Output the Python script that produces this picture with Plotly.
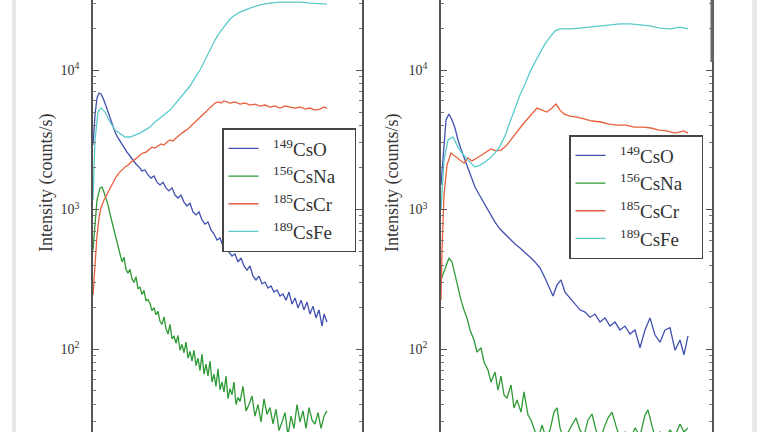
import plotly.graph_objects as go

# ---------------- data (x: sputter time, arbitrary units; y: counts/s) ----------------
# Left panel
L_cso_t = [0,2,4,6,8,10,13,16,19,22,25,28,31,34,37,40,43,46,49,52,55,58,61,64,67,70,73,76,79,82,85,88,91,94,97,100,103,106,109,112,115,118,121,124,127,130,133,136,139,142,145,148,151,154,157,160,163,166,169,172,175,178,181,184,187,190,193,196,199,202,205,208,211,214,217,220,223,226,229,231,234]
L_cso = [2900,4760,6300,6840,6730,6300,5520,4760,4100,3590,3260,3000,2760,2580,2420,2260,2120,2020,1890,1920,1770,1680,1740,1570,1500,1570,1430,1360,1430,1270,1210,1270,1130,1060,1110,960,915,960,841,787,813,713,667,604,625,547,566,496,464,480,421,449,394,368,394,333,313,333,293,302,274,283,256,265,240,248,224,256,210,232,197,224,191,217,178,203,167,191,146,178,156]

L_csna_t = [0,2,4,7,9,11,13,15,17,19,21,23,25,27,29,31,33,35,37,39,41,43,45,47,49,51,53,55,57,59,61,63,65,67,69,71,73,75,77,79,81,83,85,87,89,91,93,95,97,99,101,103,105,107,109,111,113,115,117,119,121,123,125,127,129,131,133,135,137,139,141,143,145,147,150,153,156,159,162,165,168,171,174,177,180,183,186,189,192,195,198,201,204,207,210,213,216,219,222,225,228,231,234]
L_csna = [513,774,1170,1430,1450,1330,1210,1080,929,813,713,625,547,480,421,
          455,372,350,372,318,300,330,270,278,246,
          262,222,226,212,188,198,176,186,158,150,
          170,140,128,150,118,124,110,125,98,108,
          94,112,86,96,82,98,76,86,70,92,
          66,78,64,82,58,66,54,72,51,58,
          49,64,44,52,47,58,40,45,42,54,
          36,40,46,33,40,30,44,34,38,29,
          37,26,30,35,24,33,27,40,30,36,
          27,38,31,29,35,27,33,36]

L_cscr_t = [0,1,2,4,6,8,11,14,17,20,23,26,29,32,35,38,41,44,47,50,53,56,59,62,65,68,71,74,77,80,83,86,89,92,95,98,101,104,107,110,113,116,119,122,125,128,131,134,137,142,147,152,157,162,167,172,177,182,187,192,197,202,207,212,217,222,227,231,234]
L_cscr = [244,313,434,646,869,1030,1170,1290,1430,1570,1710,1830,1920,2020,2080,2190,2260,2340,2460,2540,2580,2670,2800,2760,2850,2950,2900,3050,3150,3100,3260,3370,3530,3660,3780,3970,4170,4380,4600,4840,5080,5340,5520,5800,5900,5800,6000,5900,5800,5900,5700,5800,5610,5700,5520,5610,5430,5520,5340,5520,5430,5340,5430,5250,5340,5160,5250,5430,5340]

L_csfe_t = [0,2,5,8,12,17,22,27,32,37,42,47,52,57,62,67,72,77,82,87,92,97,102,107,112,117,122,127,132,137,142,147,157,167,177,187,197,207,217,227,234]
L_csfe = [1170,3150,5000,5350,5000,4240,3710,3480,3310,3310,3420,3530,3710,3900,4240,4530,4840,5160,5700,6300,6950,7680,8780,10000,11800,13900,16400,18700,21000,23200,24800,26000,27800,29300,30200,30700,30700,30700,30200,29700,29700]

# Right panel
R_cso_t = [0,3,5,8,11,14,17,21,25,29,34,39,44,49,54,59,64,69,74,79,84,89,94,99,104,108,112,116,120,124,129,134,139,144,149,154,159,164,169,174,179,184,189,194,199,204,209,214,219,224,229,234,239,243,247]
R_cso = [1500,3150,4380,4840,4380,3840,3150,2580,2150,1770,1450,1250,1080,929,813,724,667,604,566,530,488,456,421,381,323,274,240,288,313,256,232,214,191,184,169,178,156,167,146,156,137,146,128,137,102,137,167,126,112,137,142,98,116,91,124]

R_csna_t = [0,4,8,11,14,17,20,23,26,29,33,36,40,43,47,50,54,57,60,63,66,70,73,76,80,83,87,90,94,97,101,105,109,113,116,119,123,127,131,135,139,143,147,151,155,159,163,167,171,175,179,184,189,194,199,204,207,211,215,219,224,229,234,239,243,247]
R_csna = [313,381,449,421,339,265,224,190,167,137,116,95,102,80.7,70.7,57.9,68.4,50.8,64,46.8,44.6,55.2,37.8,43.1,35.3,49.2,33.6,31,25.4,22.3,28.5,23,26.2,35.3,37.8,27.2,22.3,25.4,28.5,32,26.2,23.8,31,34.2,26.2,21.5,27.2,32,35.3,28.1,23,25.4,22.3,27.2,23.8,33.6,36.6,28.1,22.3,25.4,23,26.2,23.8,29,25.4,27.2]

R_cscr_t = [0,1,3,6,10,15,19,23,27,31,36,41,46,50,55,60,65,70,75,79,83,88,92,96,101,106,111,115,119,123,129,136,143,151,160,168,176,185,193,202,210,218,226,234,243,247]
R_cscr = [224,513,1270,2080,2540,2380,2260,2150,2340,2230,2340,2460,2580,2720,2630,2670,2850,3150,3480,3840,4170,4600,5000,5340,5160,5000,5340,5700,5160,4840,4680,4600,4460,4310,4240,4100,4030,4030,3900,3900,3840,3710,3660,3530,3660,3530]

R_csfe_t = [0,3,7,12,17,21,27,34,39,44,49,54,59,64,69,74,79,84,89,94,99,104,109,114,119,129,139,149,159,169,179,189,199,209,219,229,239,247]
R_csfe = [990,2260,3150,3310,2800,2540,2260,2020,2080,2190,2340,2540,2850,3370,4240,5340,6620,7940,9680,11400,13200,15400,17200,19100,19700,19700,20000,20300,20700,21000,21400,21400,21000,20700,20000,19700,20300,19700]

MASSES = ["149", "156", "185", "189"]
SPECIES = ["CsO", "CsNa", "CsCr", "CsFe"]
Y_TICKVALS = [100, 1000, 10000]
Y_TICKTEXT = ["10<sup>2</sup>", "10<sup>3</sup>", "10<sup>4</sup>"]
Y_TITLE = "Intensity (counts/s)"

COLORS = ["#4150b0", "#2e9a35", "#e8603c", "#5ccaca"]

W, H = 768, 432
SERIF = "Liberation Serif, DejaVu Serif, Times New Roman, serif"


def legend_name(m, s):
    return "&nbsp;&nbsp;<sup>" + m + "</sup>" + s + "&nbsp;&nbsp;&nbsp;"


fig = go.Figure()

left = [(L_cso_t, L_cso), (L_csna_t, L_csna), (L_cscr_t, L_cscr), (L_csfe_t, L_csfe)]
right = [(R_cso_t, R_cso), (R_csna_t, R_csna), (R_cscr_t, R_cscr), (R_csfe_t, R_csfe)]

for i, (t, v) in enumerate(left):
    fig.add_trace(go.Scatter(x=t, y=v, mode="lines", name=legend_name(MASSES[i], SPECIES[i]),
                             line=dict(color=COLORS[i], width=1.3),
                             xaxis="x", yaxis="y", legend="legend"))
for i, (t, v) in enumerate(right):
    fig.add_trace(go.Scatter(x=t, y=v, mode="lines", name=legend_name(MASSES[i], SPECIES[i]),
                             line=dict(color=COLORS[i], width=1.3),
                             xaxis="x2", yaxis="y2", legend="legend2"))

minor_vals = [m * 10 ** d for d in range(1, 5) for m in range(2, 10)]


def yax(anchor):
    return dict(type="log", range=[1.405, 4.502], anchor=anchor,
                showline=True, linecolor="#555555", linewidth=1.5, mirror="allticks",
                ticks="inside", ticklen=6, tickwidth=1, tickcolor="#555555",
                tickmode="array", tickvals=Y_TICKVALS, ticktext=Y_TICKTEXT,
                ticklabelstandoff=9,
                minor=dict(ticks="inside", ticklen=3, tickcolor="#777777", tickvals=minor_vals),
                showgrid=False, zeroline=False,
                tickfont=dict(family=SERIF, size=14, color="#333333"))


def xax(domain, rng, anchor):
    return dict(domain=domain, range=rng, anchor=anchor, showline=False, showgrid=False,
                zeroline=False, showticklabels=False, ticks="")


LEG = dict(xanchor="left", yanchor="top", bgcolor="white", bordercolor="#444444",
           borderwidth=1.5, font=dict(family=SERIF, size=19, color="#333333"),
           tracegroupgap=0)

fig.update_layout(
    width=W, height=H, margin=dict(l=0, r=0, t=0, b=0),
    paper_bgcolor="white", plot_bgcolor="white",
    xaxis=xax([93 / W, 362 / W], [0, 269], "y"),
    xaxis2=xax([441 / W, 712 / W], [0, 271], "y2"),
    yaxis=yax("x"), yaxis2=yax("x2"),
    legend=dict(x=222 / W, y=1 - 128 / H, **LEG),
    legend2=dict(x=569 / W, y=1 - 135 / H, **LEG),
    showlegend=True,
    annotations=[
        dict(text=Y_TITLE, x=46 / W, y=1 - 183 / H, xref="paper", yref="paper",
             xanchor="center", yanchor="middle",
             textangle=-90, showarrow=False, font=dict(family=SERIF, size=18, color="#333333")),
        dict(text=Y_TITLE, x=392 / W, y=1 - 183 / H, xref="paper", yref="paper",
             xanchor="center", yanchor="middle",
             textangle=-90, showarrow=False, font=dict(family=SERIF, size=18, color="#333333")),
    ],
    shapes=[
        dict(type="rect", xref="paper", yref="paper", x0=12 / W, x1=16 / W, y0=0, y1=1,
             fillcolor="#e8e8e8", line=dict(width=0), layer="below"),
        dict(type="rect", xref="paper", yref="paper", x0=752 / W, x1=757 / W, y0=0, y1=1,
             fillcolor="#e8e8e8", line=dict(width=0), layer="below"),
        dict(type="line", xref="paper", yref="paper", x0=712 / W, x1=712 / W, y0=1 - 62 / H, y1=1,
             line=dict(color="#666666", width=3)),
    ],
)

fig.write_html("out.html")
